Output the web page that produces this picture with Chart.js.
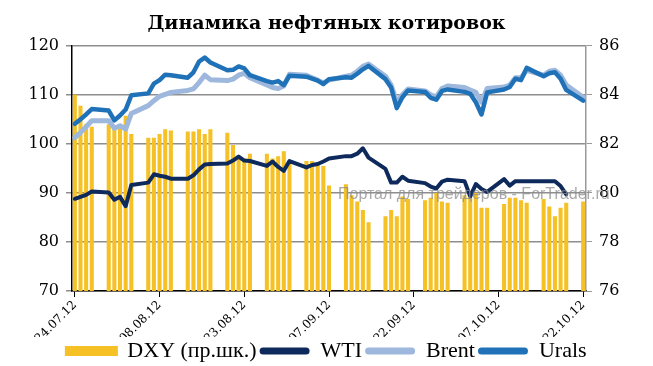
<!DOCTYPE html>
<html>
<head>
<meta charset="utf-8">
<title>Динамика нефтяных котировок</title>
<style>
    html, body {
        margin: 0;
        padding: 0;
        background: #ffffff;
    }
    #wrap {
        width: 653px;
        height: 366px;
    }
</style>
<script src="https://cdn.jsdelivr.net/npm/chart.js"></script>
</head>
<body>
<div id="wrap"><canvas id="chart" width="653" height="366"></canvas></div>
<script>
// daily categories 24.07.12 .. 22.10.12, weekends have no quotes (null)
const startDate = new Date(2012, 6, 24);
const dayCount = 91;
const dates = [];
for (let i = 0; i < dayCount; i++) {
    const d = new Date(startDate.getFullYear(), startDate.getMonth(), startDate.getDate() + i);
    const dd = String(d.getDate()).padStart(2, '0');
    const mm = String(d.getMonth() + 1).padStart(2, '0');
    dates.push(dd + '.' + mm + '.12');
}
const labelStep = 15;

// DXY, right scale
const dxy = [
    84.0, 83.55, 82.8, 82.7, null, null,
    82.8, 82.65, 82.8, 83.15, 82.4, null, null,
    82.25, 82.25, 82.4, 82.6, 82.55, null, null,
    82.5, 82.5, 82.6, 82.4, 82.6, null, null,
    82.45, 81.95, 81.5, 81.4, 81.6, null, null,
    81.6, 81.4, 81.5, 81.7, 81.3, null, null,
    81.3, 81.3, 81.2, 81.1, 80.3, null, null,
    80.35, 79.9, 79.65, 79.3, 78.8, null, null,
    79.05, 79.3, 79.05, 79.85, 79.75, null, null,
    79.7, 79.8, 80.0, 79.65, 79.6, null, null,
    79.9, 79.8, 80.0, 79.4, 79.4, null, null,
    79.55, 79.8, 79.8, 79.7, 79.6, null, null,
    79.75, 79.45, 79.05, 79.4, 79.6, null, null,
    79.65
];

const wti = [
    88.8, 89.2, 89.6, 90.3, null, null,
    90.1, 88.6, 89.2, 87.3, 91.6, null, null,
    92.1, 93.8, 93.5, 93.3, 92.9, null, null,
    92.9, 93.6, 94.8, 95.8, 95.9, null, null,
    96.0, 96.6, 97.4, 96.6, 96.5, null, null,
    95.5, 96.4, 95.3, 94.5, 96.5, null, null,
    95.2, 95.7, 95.9, 96.4, 97.0, null, null,
    97.5, 97.5, 98.0, 99.1, 97.2, null, null,
    94.9, 92.1, 92.1, 93.3, 92.5, null, null,
    92.0, 91.3, 90.9, 92.3, 92.7, null, null,
    92.4, 89.3, 91.8, 90.8, 90.2, null, null,
    92.8, 91.5, 92.4, 92.4, 92.4, null, null,
    92.4, 92.4, 92.4, 91.4, 89.7, null, null,
    null
];

const brent = [
    101.3, 102.3, 103.5, 104.7, null, null,
    104.7, 103.2, 103.7, 103.0, 106.2, null, null,
    107.8, 108.8, 109.7, 110.1, 110.5, null, null,
    110.9, 111.2, 112.5, 114.0, 113.1, null, null,
    112.9, 113.2, 114.0, 114.4, 113.5, null, null,
    112.0, 111.5, 111.3, 111.8, 114.2, null, null,
    114.0, 113.5, 113.0, 112.4, 113.0, null, null,
    113.8, 114.0, 114.8, 115.8, 116.3, null, null,
    113.8, 112.0, 108.5, 110.0, 111.2, null, null,
    110.8, 110.0, 109.6, 111.3, 111.8, null, null,
    111.5, 111.0, 110.5, 108.5, 111.3, null, null,
    111.6, 112.0, 113.5, 113.5, 115.0, null, null,
    114.0, 114.8, 115.0, 114.0, 112.0, null, null,
    109.5
];

const urals = [
    104.1, 105.0, 106.0, 107.1, null, null,
    106.8, 104.8, 105.8, 107.0, 109.9, null, null,
    110.3, 112.3, 113.0, 114.1, 114.0, null, null,
    113.5, 114.6, 116.8, 117.6, 116.6, null, null,
    115.0, 115.1, 115.8, 115.4, 114.0, null, null,
    112.8, 112.5, 112.8, 112.0, 113.9, null, null,
    113.7, 113.3, 112.9, 112.2, 113.2, null, null,
    113.6, 113.5, 114.3, 115.2, 115.9, null, null,
    113.2, 111.5, 107.3, 109.5, 110.9, null, null,
    110.6, 109.4, 109.0, 110.8, 111.1, null, null,
    110.6, 110.2, 108.5, 106.0, 110.5, null, null,
    111.1, 111.6, 113.3, 113.0, 115.5, null, null,
    113.8, 114.4, 114.6, 113.3, 111.0, null, null,
    108.8
];

const serif = 'DejaVu Serif';
const legendSerif = 'Liberation Serif';

// watermark from the source picture
const watermark = {
    id: 'watermark',
    afterDatasetsDraw(chart) {
        const ctx = chart.ctx;
        ctx.save();
        ctx.font = '16px "Liberation Sans"';
        ctx.fillStyle = 'rgba(140,140,140,0.75)';
        ctx.textBaseline = 'alphabetic';
        ctx.fillText('Портал для трейдеров - ForTrader.ru', 338, 199);
        ctx.restore();
    }
};

new Chart(document.getElementById('chart'), {
    data: {
        labels: dates,
        datasets: [
            {
                type: 'bar',
                label: 'DXY (пр.шк.)',
                data: dxy,
                yAxisID: 'y1',
                backgroundColor: '#F5C124',
                borderWidth: 0,
                barPercentage: 0.72,
                categoryPercentage: 1.0,
                order: 4
            },
            {
                type: 'line',
                label: 'WTI',
                data: wti,
                yAxisID: 'y',
                borderColor: '#0E2A5C',
                backgroundColor: '#0E2A5C',
                borderWidth: 4,
                pointRadius: 0,
                spanGaps: true,
                borderJoinStyle: 'round',
                borderCapStyle: 'round',
                order: 1
            },
            {
                type: 'line',
                label: 'Brent',
                data: brent,
                yAxisID: 'y',
                borderColor: '#9DB8DC',
                backgroundColor: '#9DB8DC',
                borderWidth: 5,
                pointRadius: 0,
                spanGaps: true,
                borderJoinStyle: 'round',
                borderCapStyle: 'round',
                order: 3
            },
            {
                type: 'line',
                label: 'Urals',
                data: urals,
                yAxisID: 'y',
                borderColor: '#1F72B8',
                backgroundColor: '#1F72B8',
                borderWidth: 4.5,
                pointRadius: 0,
                spanGaps: true,
                borderJoinStyle: 'round',
                borderCapStyle: 'round',
                order: 2
            }
        ]
    },
    options: {
        responsive: false,
        animation: false,
        layout: { padding: { left: 0, right: 0, top: 0, bottom: -6 } },
        plugins: {
            title: {
                display: true,
                text: 'Динамика нефтяных котировок',
                color: '#000',
                font: { family: serif, size: 19, weight: 'bold' },
                padding: { top: 13, bottom: 10 }
            },
            legend: {
                position: 'bottom',
                labels: {
                    color: '#000',
                    font: { family: legendSerif, size: 22 },
                    boxWidth: 50,
                    boxHeight: 7,
                    padding: 3,
                    useBorderRadius: true,
                    sort: (a, b) => a.datasetIndex - b.datasetIndex,
                    generateLabels: function (chart) {
                        const items = Chart.defaults.plugins.legend.labels.generateLabels(chart);
                        items.forEach(function (it) {
                            const ds = chart.data.datasets[it.datasetIndex];
                            const isLine = ds.type === 'line';
                            it.fillStyle = isLine ? ds.borderColor : ds.backgroundColor;
                            it.strokeStyle = it.fillStyle;
                            it.lineWidth = isLine ? 0 : 3;
                            it.borderRadius = isLine ? 3.5 : 0;
                        });
                        return items;
                    }
                }
            },
            tooltip: { enabled: false }
        },
        scales: {
            x: {
                offset: true,
                grid: {
                    display: true,
                    drawOnChartArea: false,
                    offset: false,
                    tickLength: 6,
                    color: '#000'
                },
                border: { color: '#000', width: 1.5 },
                ticks: {
                    autoSkip: false,
                    maxRotation: 45,
                    minRotation: 45,
                    padding: 1,
                    color: '#000',
                    font: { family: serif, size: 12 },
                    callback: (v, i) => (i % labelStep === 0 ? dates[i] : null)
                },
                afterFit: (s) => { s.height = 46; }
            },
            y: {
                position: 'left',
                min: 70,
                max: 120,
                ticks: {
                    stepSize: 10,
                    padding: 7,
                    color: '#000',
                    font: { family: serif, size: 16 }
                },
                grid: { color: '#8E8E8E', lineWidth: 1.5, tickLength: 6 },
                border: { color: '#000', width: 1.5 },
                afterFit: (s) => { s.width = 72; }
            },
            y1: {
                position: 'right',
                min: 76,
                max: 86,
                ticks: {
                    stepSize: 2,
                    padding: 7,
                    color: '#000',
                    font: { family: serif, size: 16 }
                },
                grid: { drawOnChartArea: false, color: '#9A9A9A', tickLength: 6 },
                border: { color: '#9A9A9A', width: 1.5 },
                afterFit: (s) => { s.width = 67; }
            }
        }
    },
    plugins: [watermark]
});
</script>
</body>
</html>
